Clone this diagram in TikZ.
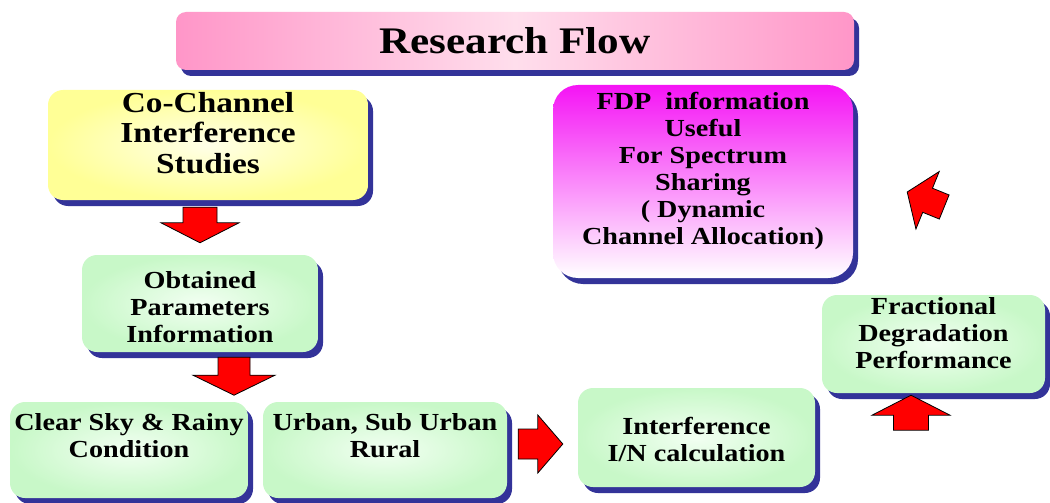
\documentclass[tikz,border=0pt]{standalone}
\usepackage{fontspec}
\setmainfont{Liberation Serif}[BoldFeatures={FakeStretch=1.15}]
\usetikzlibrary{calc,shadows}

\definecolor{shadowblue}{RGB}{51,51,153}
\definecolor{greenedge}{RGB}{200,248,200}
\definecolor{greencore}{RGB}{242,255,242}
\definecolor{yellowedge}{RGB}{255,255,150}
\definecolor{yellowcore}{RGB}{255,255,232}
\definecolor{pinkedge}{RGB}{255,150,200}
\definecolor{pinkcore}{RGB}{255,222,236}
\definecolor{fdpmagenta}{RGB}{245,20,245}
\definecolor{arrowred}{RGB}{255,0,0}

\tikzset{
  boxshadow/.style={drop shadow={shadow xshift=5pt,shadow yshift=-6pt,opacity=1,fill=shadowblue}},
  stagebox/.style={rounded corners=15pt,boxshadow,inner sep=0pt,
    inner color=greencore,outer color=greenedge},
  bodytext/.style={align=center,font=\bfseries\fontsize{24.5}{27}\selectfont},
  blockarrow/.style={fill=arrowred,draw=black,line width=0.8pt,line join=miter},
}

% block arrow: #1 name, #2 tail, #3 tip, #4 shaft half width, #5 head half width, #6 head length
\newcommand\blkarrow[6]{%
  \coordinate (#1-t) at #2;
  \coordinate (#1-p) at #3;
  \coordinate (#1-h) at ($(#1-p)!#6!(#1-t)$);
  \filldraw[blockarrow]
    ($(#1-t)!#4!90:(#1-p)$) -- ($(#1-h)!#4!90:(#1-p)$) -- ($(#1-h)!#5!90:(#1-p)$)
    -- (#1-p) -- ($(#1-h)!#5!-90:(#1-p)$) -- ($(#1-h)!#4!-90:(#1-p)$)
    -- ($(#1-t)!#4!-90:(#1-p)$) -- cycle;}

\begin{document}
\begin{tikzpicture}[x=1pt,y=-1pt]
\useasboundingbox (0,0) rectangle (1050,503);

% title bar
\node[rounded corners=10pt,boxshadow,minimum width=678pt,minimum height=58pt,
      left color=pinkedge,right color=pinkedge,middle color=pinkcore] (bar) at (515,41) {};
\node[font=\bfseries\fontsize{37.5}{40}\selectfont] (title) at (bar.center) {Research Flow};

% boxes
\node[rounded corners=15pt,boxshadow,minimum width=320pt,minimum height=110pt,
      inner color=yellowcore,outer color=yellowedge] (cci) at (208,145) {};
\node[align=center,font=\bfseries\fontsize{29}{30.5}\selectfont] (ccit) at ($(cci)+(0,-12)$)
  {Co-Channel\\Interference\\Studies};

\node[rounded corners=25pt,boxshadow,minimum width=300pt,minimum height=193pt,
      top color=fdpmagenta,bottom color=white] (fdp) at (703,181.5) {};
\node[bodytext] (fdpt) at ($(fdp)+(0,-11)$)
  {FDP~~information\\Useful\\For Spectrum\\Sharing\\( Dynamic\\Channel Allocation)};

\node[stagebox,minimum width=236pt,minimum height=97pt] (opi) at (200,303.5) {};
\node[bodytext] (opit) at ($(opi)+(0,4)$) {Obtained\\Parameters\\Information};

\node[stagebox,minimum width=238pt,minimum height=96pt] (csr) at (129,450) {};
\node[bodytext] (csrt) at ($(csr)+(0,-14)$) {Clear Sky \& Rainy\\Condition};

\node[stagebox,minimum width=244pt,minimum height=96pt] (usr) at (385,450) {};
\node[bodytext] (usrt) at ($(usr)+(0,-14)$) {Urban, Sub Urban\\Rural};

\node[stagebox,minimum width=237pt,minimum height=99pt] (inc) at (696.5,437.5) {};
\node[bodytext] (inct) at ($(inc)+(0,2)$) {Interference\\I/N calculation};

\node[stagebox,minimum width=223pt,minimum height=98pt] (fdg) at (933.5,344) {};
\node[bodytext] (fdgt) at ($(fdg)+(0,-11)$) {Fractional\\Degradation\\Performance};

% flow arrows
\blkarrow{a1}{($(cci.south)+(-8,7)$)}{($(opi.north)+(0,-12)$)}{17pt}{39pt}{20pt}
\blkarrow{a2}{($(opi.south)+(34,5)$)}{($(opi.south)+(34,43)$)}{16pt}{41pt}{20pt}
\blkarrow{a3}{($(usr.east)+(11,-6)$)}{($(inc.west)+(-15,6.5)$)}{15pt}{29pt}{25pt}
\blkarrow{a4}{($(fdg.south)+(-22.5,37)$)}{($(fdg.south)+(-22.5,2)$)}{17.5pt}{39pt}{20pt}
\blkarrow{a5}{($(fdp.east)+(91,25.5)$)}{($(fdp.east)+(54,10.5)$)}{13pt}{31pt}{22pt}
\end{tikzpicture}
\end{document}
